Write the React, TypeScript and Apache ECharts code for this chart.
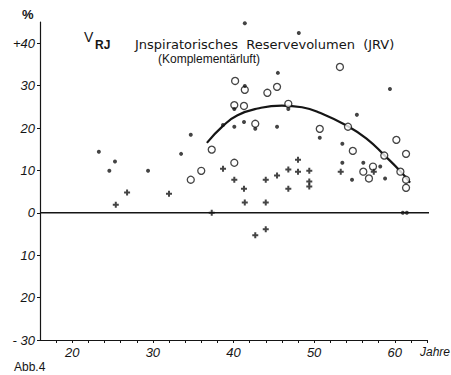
import { useEffect, useRef } from "react";
import * as echarts from "echarts";

// Age in years (x), inspiratory reserve volume in % (y)
const dotPoints: [number, number][] = [
  [23.3, 14.4], [25.3, 12.1], [24.6, 9.9], [29.4, 9.9], [33.5, 13.9], [34.7, 18.4],
  [38.7, 20.7], [40.1, 24.5], [41.4, 29.9], [40.1, 20.3], [41.3, 21.4], [42.7, 19.8],
  [45.4, 20.3], [46.8, 24.5], [50.7, 17.7], [59.4, 29.2], [55.3, 23.1], [53.5, 16.3],
  [53.5, 11.8], [56.1, 11.8], [58.2, 10.9], [54.7, 7.8], [58.8, 8.1], [41.4, 44.7],
  [48.1, 42.4], [45.5, 33.0], [61.0, 0], [61.5, 0],
];
const circlePoints: [number, number][] = [
  [34.7, 7.8], [36.0, 9.9], [37.3, 14.9], [40.1, 25.4], [41.3, 25.2], [41.4, 29.0],
  [40.2, 31.1], [44.2, 28.3], [45.4, 29.7], [42.7, 21.0], [40.1, 11.8], [46.8, 25.7],
  [50.7, 19.8], [54.2, 20.3], [54.8, 14.6], [60.2, 17.2], [58.7, 13.5], [61.4, 13.9],
  [56.1, 9.7], [57.3, 10.9], [56.8, 8.1], [60.7, 9.7], [61.4, 7.8], [61.4, 5.9],
  [53.2, 34.4],
];
const plusPoints: [number, number][] = [
  [25.4, 1.9], [26.8, 4.8], [32.0, 4.5], [38.7, 10.4], [40.1, 7.8], [41.3, 5.7],
  [44.0, 7.8], [45.4, 8.8], [48.0, 12.5], [46.8, 10.2], [48.0, 9.7], [49.4, 9.9],
  [49.4, 7.4], [49.4, 6.2], [46.8, 5.7], [53.3, 9.7], [57.4, 9.7], [41.4, 2.4],
  [44.0, 2.4], [37.3, 0], [44.0, -3.9], [42.7, -5.3],
];
const curvePoints: [number, number][] = [
  [36.7, 16.5], [38.7, 20.5], [40.5, 23.0], [43, 24.6], [46, 25.3], [48.5, 24.9],
  [50.7, 23.6], [54.2, 20.4], [56.5, 17.5], [58.7, 13.6], [60.7, 9.8], [61.9, 7.1],
];
const zeroLineEnds: [number, number][] = [[16, 0], [65.3, 0]];
const yTickValues = [-30, -20, -10, 0, 10, 20, 30, 40];
const xLabelValues = [20, 30, 40, 50, 60];
const xTickValues = [18, 20, 22, 24, 26, 28, 30, 32, 34, 36, 38, 40, 42, 44, 46, 48, 50, 52, 54, 56, 58, 60, 62, 64];

const INK = "#151515";
const FONT = "Liberation Sans, Arial, sans-serif";
const WIDE = "DejaVu Sans, sans-serif";

export default function App() {
  const ref = useRef<HTMLDivElement>(null);
  useEffect(() => {
    if (!ref.current) return;
    const chart = echarts.init(ref.current, undefined, { renderer: "svg" });
    const labelStyle = { color: INK, fontFamily: FONT, fontStyle: "italic" as const, fontSize: 13 };
    chart.setOption({
      animation: false,
      backgroundColor: "#ffffff",
      grid: { left: 40, right: 24, top: 22, bottom: 35 },
      xAxis: {
        type: "value",
        min: 16,
        max: 64,
        axisLine: { onZero: false, lineStyle: { color: INK, width: 1.2 } },
        axisTick: { show: true, length: 3, customValues: xTickValues, lineStyle: { color: INK, width: 1 } },
        axisLabel: { ...labelStyle, margin: 6, customValues: xLabelValues, formatter: (v: number) => String(v) },
        splitLine: { show: false },
      },
      yAxis: {
        type: "value",
        min: -30,
        max: 45,
        axisLine: { show: true, lineStyle: { color: INK, width: 1.2 } },
        axisTick: { show: true, length: 3, customValues: yTickValues, lineStyle: { color: INK, width: 1 } },
        axisLabel: {
          ...labelStyle,
          margin: 5,
          customValues: yTickValues,
          formatter: (v: number) => (v === 40 ? "+40" : v === -30 ? "- 30" : String(Math.abs(v))),
        },
        splitLine: { show: false },
      },
      series: [
        {
          type: "line",
          data: zeroLineEnds,
          clip: false,
          symbol: "none",
          lineStyle: { color: INK, width: 1.5 },
          z: 1,
        },
        {
          type: "line",
          data: curvePoints,
          smooth: true,
          symbol: "none",
          lineStyle: { color: INK, width: 2.2 },
          z: 2,
        },
        {
          type: "scatter",
          data: circlePoints,
          symbol: "circle",
          symbolSize: 7,
          itemStyle: { color: "#ffffff", borderColor: INK, borderWidth: 1.3 },
          z: 3,
        },
        {
          type: "scatter",
          data: dotPoints,
          symbol: "circle",
          symbolSize: 4,
          itemStyle: { color: INK },
          z: 4,
        },
        {
          type: "scatter",
          data: plusPoints,
          symbol: "path://M2,0H4V2H6V4H4V6H2V4H0V2H2Z",
          symbolSize: 6,
          itemStyle: { color: INK },
          z: 4,
        },
      ],
      graphic: [
        { type: "text", left: 22, top: 8, style: { text: "%", fill: INK, font: `bold 13px ${FONT}` } },
        { type: "text", left: 84, top: 30, style: { text: "V", fill: INK, font: `14px ${FONT}` } },
        { type: "text", left: 95, top: 39, style: { text: "RJ", fill: INK, font: `bold 12px ${FONT}` } },
        {
          type: "text",
          left: 135,
          top: 38,
          style: { text: "Jnspiratorisches  Reservevolumen  (JRV)", fill: INK, font: `13px ${WIDE}` },
        },
        {
          type: "text",
          left: 158,
          top: 53,
          style: { text: "(Komplementärluft)", fill: INK, font: `12px ${FONT}` },
        },
        { type: "text", left: 420, top: 346, style: { text: "Jahre", fill: INK, font: `italic 12px ${FONT}` } },
        { type: "text", left: 14, top: 361, style: { text: "Abb.4", fill: INK, font: `12px ${FONT}` } },
      ],
    });
    return () => chart.dispose();
  }, []);
  return <div ref={ref} style={{ position: "fixed", left: 0, top: 0, width: 451, height: 375, background: "#fff" }} />;
}
